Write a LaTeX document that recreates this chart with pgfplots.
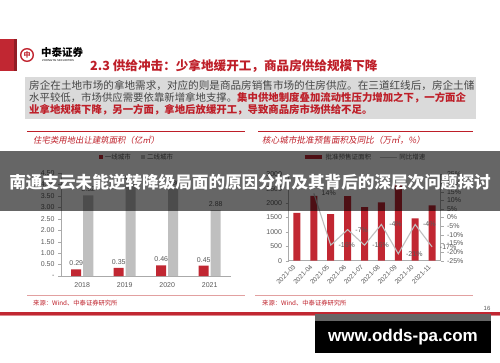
\documentclass[border=0pt]{standalone}
\usepackage{fontspec}
\usepackage{pgfplots}
\pgfplotsset{compat=1.18}
\setmainfont{Liberation Sans}
\newfontfamily\cjk{Noto Sans CJK SC}
\newfontfamily\cjkit[FakeSlant=0.18]{Noto Sans CJK SC}
\definecolor{cred}{RGB}{193,39,50}
\definecolor{tred}{RGB}{190,30,40}
\definecolor{cgray}{RGB}{191,191,191}
\definecolor{labgray}{RGB}{89,89,89}
\definecolor{axgray}{RGB}{170,170,170}
\definecolor{boxgray}{RGB}{218,218,218}
\definecolor{txtgray}{RGB}{70,70,70}
\definecolor{pinkline}{RGB}{226,160,160}
\begin{document}
\begin{tikzpicture}
\useasboundingbox (0,0) rectangle (500pt,-362pt);
\fill[white] (0,0) rectangle (500pt,-362pt);
\begin{scope}[x=1pt,y=-1pt]
% logo
\fill[cred] (0,39) rectangle (17,71);
\fill[cred!75!black] (14,39) rectangle (17,71);
\draw[cred, line width=1.4pt] (27,55) circle (6.3);
\node[text=cred, inner sep=0] at (27,55) {\cjk\bfseries\fontsize{7}{7}\selectfont 中};
\node[anchor=west, inner sep=0] at (41,52) {\cjk\bfseries\fontsize{10.5}{11}\selectfont 中泰证券};
\node[anchor=west, inner sep=0] at (42,60.5) {\fontsize{2.8}{3}\selectfont ZHONGTAI SECURITIES};
% title
\node[anchor=west, inner sep=0, text=tred] at (90,66) {\cjk\bfseries\fontsize{12.6}{13}\selectfont 2.3 供给冲击：少拿地缓开工，商品房供给规模下降};
% text box
\fill[boxgray] (25,77) rectangle (476,119);
\node[anchor=west,inner sep=0,text=txtgray] at (29,86) {\cjk\fontsize{10.6}{11}\selectfont 房企在土地市场的拿地需求，对应的则是商品房销售市场的住房供应。在三道红线后，房企土储};
\node[anchor=west,inner sep=0,text=txtgray] at (29,98) {\cjk\fontsize{10.4}{11}\selectfont 水平较低，市场供应需要依靠新增拿地支撑。\textcolor{tred}{\bfseries 集中供地制度叠加流动性压力增加之下，一方面企}};
\node[anchor=west,inner sep=0,text=tred] at (29,110) {\cjk\bfseries\fontsize{10.4}{11}\selectfont 业拿地规模下降，另一方面，拿地后放缓开工，导致商品房市场供给不足。};
% chart titles
\draw[tred, line width=0.8pt] (27,131.5) -- (245,131.5);
\draw[tred, line width=0.8pt] (258,131.5) -- (473,131.5);
\node[anchor=west,inner sep=0,text=tred] at (33,140) {\cjkit\fontsize{8.4}{9}\selectfont 住宅类用地出让建筑面积（亿㎡）};
\node[anchor=west,inner sep=0,text=tred] at (262,140) {\cjkit\fontsize{8.6}{9}\selectfont 核心城市批准预售面积及同比（万㎡，\%）};
% bottom
\draw[pinkline, line width=0.6pt] (27,295) -- (245,295);
\draw[pinkline, line width=0.6pt] (255,295) -- (473,295);
\node[anchor=west,inner sep=0,text=tred] at (33,303) {\cjk\fontsize{6.3}{7}\selectfont 来源：Wind、中泰证券研究所};
\node[anchor=west,inner sep=0,text=tred] at (262,303) {\cjk\fontsize{6.3}{7}\selectfont 来源：Wind、中泰证券研究所};
\node[text=labgray, inner sep=0] at (487,308) {\fontsize{6}{7}\selectfont 16};
\fill[cred] (0,312) rectangle (500,314.5);
\fill[cred!55] (0,314.5) rectangle (500,316);
\end{scope}

% left chart
\begin{axis}[
 at={(61pt,-276pt)}, anchor=south west,
 width=170pt, height=103pt, scale only axis,
 xmin=-0.5, xmax=3.5, ymin=0, ymax=4.5,
 axis x line*=bottom, axis y line*=left,
 axis line style={draw=axgray, line width=0.5pt, -},
 xtick={0,1,2,3}, xticklabels={2018,2019,2020,2021},
 ytick={0,0.5,...,4.5},
 yticklabels={-,0.50,1.00,1.50,2.00,2.50,3.00,3.50,4.00,4.50},
 tick label style={font=\fontsize{7}{8}\selectfont, text=labgray},
 x tick style={draw=none}, y tick style={draw=axgray},
 major tick length=3pt, tick align=outside,
 ybar=2pt, bar width=10pt,
 /pgf/number format/assume math mode=true,
 nodes near coords,
 nodes near coords style={font=\fontsize{7}{8}\selectfont, text=labgray,
   /pgf/number format/fixed, /pgf/number format/precision=2, /pgf/number format/fixed zerofill},
 legend columns=2,
 legend image code/.code={\fill[#1] (0pt,-2.1pt) rectangle (4.2pt,2.1pt);},
 legend style={draw=none, fill=none, at={(0.447,1.155)}, anchor=center,
   font=\cjk\fontsize{6.5}{7}\selectfont, text=labgray,
   /tikz/every even column/.append style={column sep=8pt}},
]
\addplot[fill=cred, draw=none] coordinates {(0,0.29) (1,0.35) (2,0.46) (3,0.45)};
\addplot[fill=cgray, draw=none] coordinates {(0,3.52) (1,4.03) (2,3.80) (3,2.88)};
\legend{一线城市,二线城市}
\end{axis}

% right chart, bars
\begin{axis}[
 at={(288.5pt,-260.7pt)}, anchor=south west,
 width=152pt, height=86.3pt, scale only axis,
 xmin=-0.5, xmax=8.5, ymin=0, ymax=3000,
 axis x line*=bottom, axis y line*=left,
 axis line style={draw=axgray, line width=0.5pt, -},
 xtick={0,...,8},
 xticklabels={2021-03,2021-04,2021-05,2021-06,2021-07,2021-08,2021-09,2021-10,2021-11},
 xticklabel style={rotate=45, anchor=east, font=\fontsize{6.5}{7}\selectfont},
 ytick={0,500,...,3000}, yticklabels={0,500,1000,1500,2000,2500,3000},
 yticklabel style={font=\fontsize{7}{8}\selectfont},
 tick label style={text=labgray},
 x tick style={draw=none}, y tick style={draw=axgray},
 major tick length=3pt, tick align=outside,
 ybar, bar width=7pt,
]
\addplot[fill=cred, draw=none] coordinates {(0,1660) (1,2250) (2,1620) (3,2245) (4,1860) (5,2030) (6,2650) (7,1475) (8,1925)};
\end{axis}

% right chart, line
\begin{axis}[
 at={(288.5pt,-260.7pt)}, anchor=south west,
 width=152pt, height=86.3pt, scale only axis,
 xmin=-0.5, xmax=8.5, ymin=-25, ymax=25,
 axis x line=none, axis y line*=right,
 axis line style={draw=axgray, line width=0.5pt, -},
 ytick={-25,-20,...,25},
 yticklabels={-25\%,-20\%,-15\%,-10\%,-5\%,0\%,5\%,10\%,15\%,20\%,25\%},
 yticklabel style={font=\fontsize{7}{8}\selectfont, text=labgray},
 y tick style={draw=axgray}, major tick length=3pt, tick align=outside,
 legend columns=2,
 legend style={draw=none, fill=none, at={(0.503,1.197)}, anchor=center,
   font=\cjk\fontsize{6.5}{7}\selectfont, text=labgray,
   /tikz/every even column/.append style={column sep=6pt}},
]
\addlegendimage{cred, line width=4pt}
\addlegendentry{批准预售证面积}
\addplot[cgray, line width=1.1pt, mark=none, nodes near coords, point meta=explicit symbolic,
  nodes near coords style={anchor=west, xshift=4pt, font=\fontsize{7}{8}\selectfont, text=labgray}]
  coordinates {(1,14) [14\%] (2,-16) [-16\%] (3,-7) [-7\%] (4,-16) [-16\%] (5,-4) [-4\%] (6,-21) [-21\%] (7,-4) [-4\%] (8,-17) [-17\%]};
\addlegendentry{同比增速}
\end{axis}

\begin{scope}[x=1pt,y=-1pt]
\fill[black, opacity=0.6] (0,151) rectangle (500,211);
\node[text=white, inner sep=0] at (250,182) {\cjk\bfseries\fontsize{16.6}{17}\selectfont 南通支云未能逆转降级局面的原因分析及其背后的深层次问题探讨};
\fill[black!60] (315,314.3) rectangle (491,321);
\fill[black] (315,321) rectangle (491,353);
\node[text=white, inner sep=0] at (403,337.5) {\bfseries\fontsize{17}{18}\selectfont www.odds-pa.com};
\end{scope}
\end{tikzpicture}
\end{document}
